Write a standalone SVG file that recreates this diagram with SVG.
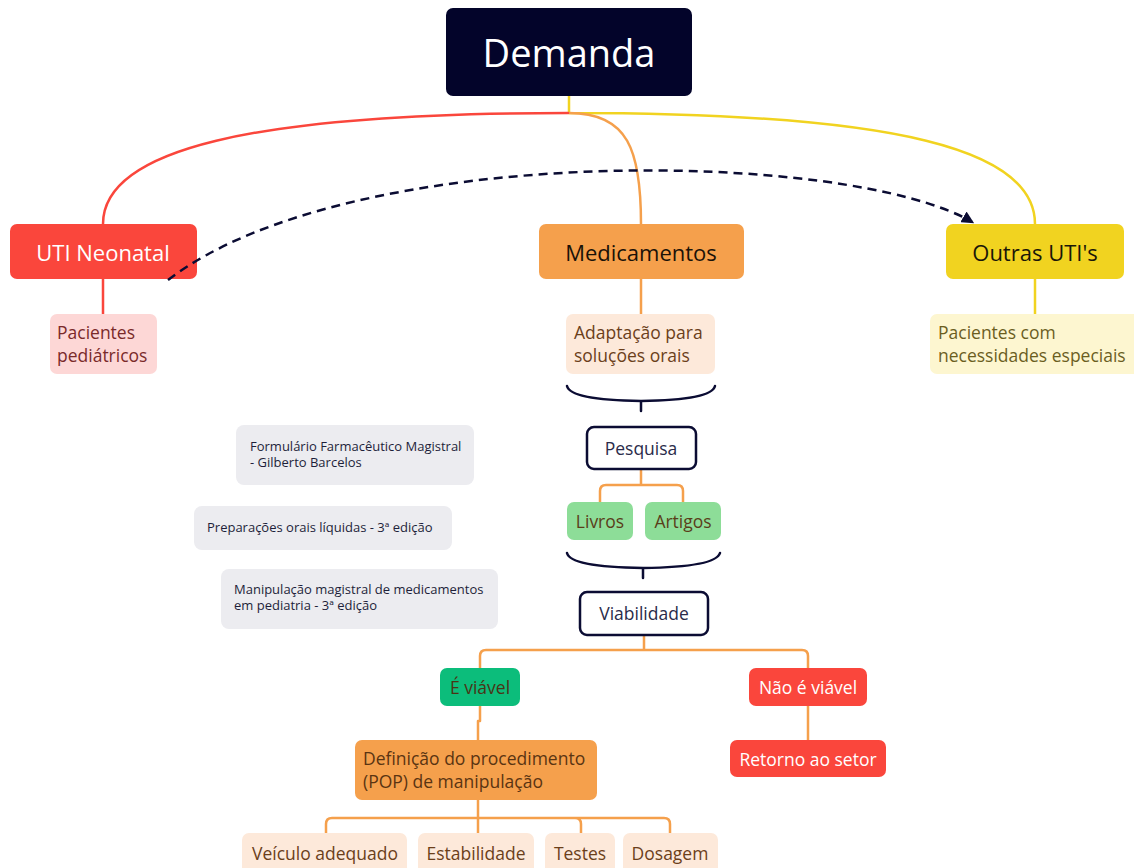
<svg xmlns="http://www.w3.org/2000/svg" width="1134" height="868" viewBox="0 0 1134 868">
<defs>
<style>
text{font-family:"Open Sans","Liberation Sans",sans-serif;}
.c{fill:none;stroke-width:2.5;stroke-linecap:round;stroke-linejoin:round}
.or{stroke:#f5a04c}.rd{stroke:#fa463c}.ye{stroke:#f1d320}.nv{stroke:#0b0c33}
.mid{text-anchor:middle;dominant-baseline:central}
.b{font-size:17.5px}
.h{font-size:22px}
.ref rect{fill:#ececf0}
.ref text{font-size:13px;fill:#1e1f3a}
</style>
<marker id="ah" viewBox="0 0 10 10" refX="8" refY="5" markerWidth="5" markerHeight="5" orient="auto">
<path d="M0,0 L10,5 L0,10 z" fill="#0b0c33"/>
</marker>
</defs>
<g id="connectors">
<path class="c ye" d="M569,96 V113 C900,113 1035,150 1035,224" stroke-width="3"/>
<path class="c or" d="M569,113 C628,113 641,150 641,224"/>
<path class="c rd" d="M568,113 C250,113 103,150 103,224" stroke-width="3"/>
<path class="c rd" d="M103,279 V314"/>
<path class="c or" d="M641,279 V314"/>
<path class="c ye" d="M1035,279 V314"/>
<path class="c nv" d="M567,386 Q570,400 641,401 Q712,400 715,386 M641,401 V411"/>
<path class="c or" d="M641,469 V485 M600,502 V491 Q600,485 606,485 H677 Q683,485 683,491 V502"/>
<path class="c nv" d="M567,553 Q570,567 643,568 Q716,567 720,553 M643,568 V578"/>
<path class="c or" d="M644,635 V650 M480,668 V656 Q480,650 486,650 H802 Q808,650 808,656 V668"/>
<path class="c or" d="M480,706 V721 H478 V740"/>
<path class="c or" d="M808,706 V740"/>
<path class="c or" d="M478,800 V818 M326,833 V824 Q326,818 332,818 H664 Q670,818 670,824 V833 M478,818 V833 M575,818 Q581,818 581,824 V833"/>
</g>
<g id="demanda"><rect x="446" y="8" width="246" height="88" rx="7" fill="#03042a"/><text x="569" y="52" class="mid" font-size="38" fill="#fff">Demanda</text></g>
<g id="uti-neonatal"><rect x="10" y="224" width="187" height="55" rx="7" fill="#fa463c"/><text x="103" y="252" class="mid h" fill="#fff">UTI Neonatal</text></g>
<g id="medicamentos"><rect x="539" y="224" width="205" height="55" rx="7" fill="#f5a04c"/><text x="641" y="252" class="mid h" fill="#1a1208">Medicamentos</text></g>
<g id="outras-utis"><rect x="946" y="224" width="178" height="55" rx="7" fill="#f1d320"/><text x="1035" y="252" class="mid h" fill="#1a1708">Outras UTI's</text></g>
<g id="pacientes-pediatricos"><rect x="50" y="314" width="107" height="60" rx="7" fill="#fdd7d6"/><text class="b" fill="#7a2a2a"><tspan x="57" y="339">Pacientes</tspan><tspan x="57" y="362">pediátricos</tspan></text></g>
<g id="adaptacao"><rect x="566" y="314" width="149" height="60" rx="7" fill="#fde9da"/><text class="b" fill="#6b3f1a"><tspan x="574" y="339">Adaptação para</tspan><tspan x="574" y="362">soluções orais</tspan></text></g>
<g id="pacientes-especiais"><rect x="930" y="314" width="215" height="60" rx="7" fill="#fdf6d0"/><text class="b" fill="#6b5e1f"><tspan x="938" y="339">Pacientes com</tspan><tspan x="938" y="362">necessidades especiais</tspan></text></g>
<g id="pesquisa"><rect x="587" y="427" width="109" height="42" rx="7" fill="#fff" stroke="#0b0c33" stroke-width="2.5"/><text x="641" y="448" class="mid b" fill="#2a2b4a">Pesquisa</text></g>
<g id="livros"><rect x="567" y="502" width="66" height="38" rx="7" fill="#8ddd98"/><text x="600" y="521" class="mid b" fill="#5a3d1a">Livros</text></g>
<g id="artigos"><rect x="645" y="502" width="76" height="38" rx="7" fill="#8ddd98"/><text x="683" y="521" class="mid b" fill="#5a3d1a">Artigos</text></g>
<g id="viabilidade"><rect x="580" y="592" width="128" height="43" rx="7" fill="#fff" stroke="#0b0c33" stroke-width="2.5"/><text x="644" y="613" class="mid b" fill="#2a2b4a">Viabilidade</text></g>
<g id="e-viavel"><rect x="440" y="668" width="80" height="38" rx="7" fill="#0cbd7b"/><text x="480" y="687" class="mid b" fill="#4a3415">É viável</text></g>
<g id="nao-viavel"><rect x="749" y="668" width="118" height="38" rx="7" fill="#fa463c"/><text x="808" y="687" class="mid b" fill="#fff">Não é viável</text></g>
<g id="definicao"><rect x="355" y="740" width="242" height="60" rx="7" fill="#f5a04c"/><text class="b" fill="#5a3412"><tspan x="363" y="765">Definição do procedimento</tspan><tspan x="363" y="788">(POP) de manipulação</tspan></text></g>
<g id="retorno"><rect x="730" y="740" width="156" height="37" rx="7" fill="#fa463c"/><text x="808" y="759" class="mid b" fill="#fff">Retorno ao setor</text></g>
<g id="veiculo"><rect x="242" y="833" width="165" height="45" rx="7" fill="#fde9da"/><text x="325" y="853" class="mid b" fill="#6b3f1a">Veículo adequado</text></g>
<g id="estabilidade"><rect x="418" y="833" width="116" height="45" rx="7" fill="#fde9da"/><text x="476" y="853" class="mid b" fill="#6b3f1a">Estabilidade</text></g>
<g id="testes"><rect x="545" y="833" width="70" height="45" rx="7" fill="#fde9da"/><text x="580" y="853" class="mid b" fill="#6b3f1a">Testes</text></g>
<g id="dosagem"><rect x="623" y="833" width="95" height="45" rx="7" fill="#fde9da"/><text x="670" y="853" class="mid b" fill="#6b3f1a">Dosagem</text></g>
<g id="ref1" class="ref"><rect x="236" y="425" width="238" height="60" rx="8"/><text><tspan x="250" y="451">Formulário Farmacêutico Magistral</tspan><tspan x="250" y="467">- Gilberto Barcelos</tspan></text></g>
<g id="ref2" class="ref"><rect x="194" y="506" width="258" height="44" rx="8"/><text x="207" y="532">Preparações orais líquidas - 3ª edição</text></g>
<g id="ref3" class="ref"><rect x="221" y="569" width="277" height="60" rx="8"/><text><tspan x="234" y="594">Manipulação magistral de medicamentos</tspan><tspan x="234" y="610">em pediatria - 3ª edição</tspan></text></g>
<g id="dashed-link"><path d="M168,280 C350,140 850,150 972,222" fill="none" stroke="#0b0c33" stroke-width="2.5" stroke-dasharray="9,6" marker-end="url(#ah)"/></g>
</svg>
